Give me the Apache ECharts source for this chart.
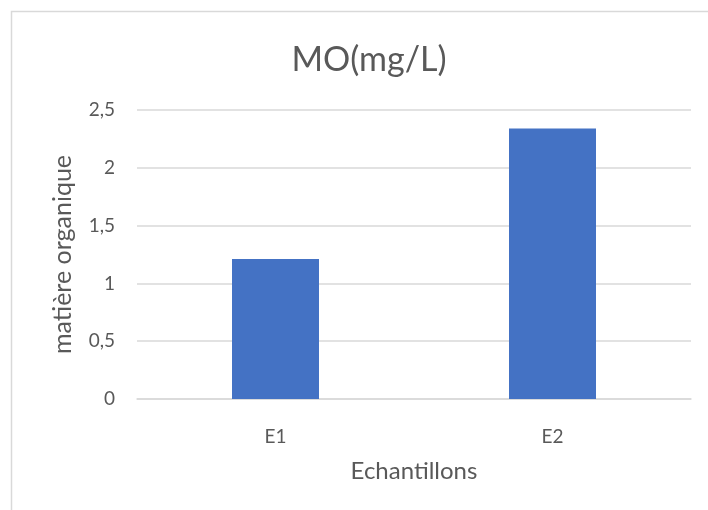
<!DOCTYPE html>
<html>
<head>
<meta charset="utf-8">
<script src="https://cdn.jsdelivr.net/npm/echarts@6/dist/echarts.min.js"></script>
<style>
  html, body { margin: 0; padding: 0; background: #ffffff; }
  #chart { width: 708px; height: 510px; }
</style>
</head>
<body>
<div id="chart"></div>
<script>
// Organic matter per sample
const categories = ['E1', 'E2'];
const moValues = [1.21, 2.34];
const yTicks = { min: 0, max: 2.5, interval: 0.5 };

const FONT = 'Lato, "Open Sans", sans-serif';
const TEXT = '#595959';

const chart = echarts.init(document.getElementById('chart'), null, { renderer: 'canvas' });
chart.setOption({
  backgroundColor: '#ffffff',
  animation: false,
  graphic: [{
    type: 'rect',
    shape: { x: 11.5, y: 11.5, width: 740, height: 540 },
    style: { fill: 'none', stroke: '#d9d9d9', lineWidth: 1.5 },
    silent: true
  }],
  title: {
    text: 'MO(mg/L)',
    left: 364,
    top: 38,
    textAlign: 'center',
    textStyle: { fontFamily: FONT, fontSize: 34, fontWeight: 'normal', color: TEXT }
  },
  grid: { left: 137, right: 17, top: 110, bottom: 111, containLabel: false },
  xAxis: {
    type: 'category',
    data: categories,
    name: 'Echantillons',
    nameLocation: 'middle',
    nameGap: 60,
    nameTextStyle: { fontFamily: FONT, fontSize: 24, color: TEXT },
    axisLine: { show: true, lineStyle: { color: '#d9d9d9', width: 1.5 } },
    axisTick: { show: false },
    axisLabel: { fontFamily: FONT, fontSize: 19, color: TEXT, margin: 28 }
  },
  yAxis: {
    type: 'value',
    min: yTicks.min,
    max: yTicks.max,
    interval: yTicks.interval,
    name: 'matière organique',
    nameLocation: 'middle',
    nameGap: 62,
    nameRotate: 90,
    nameTextStyle: { fontFamily: FONT, fontSize: 25, color: TEXT },
    axisLine: { show: false },
    axisTick: { show: false },
    axisLabel: {
      fontFamily: FONT, fontSize: 19, color: TEXT, margin: 22,
      formatter: v => String(v).replace('.', ',')
    },
    splitLine: { lineStyle: { color: '#d9d9d9', width: 1.5 } }
  },
  series: [{
    type: 'bar',
    data: moValues,
    barWidth: 87,
    itemStyle: { color: '#4472c4' }
  }]
});
</script>
</body>
</html>
